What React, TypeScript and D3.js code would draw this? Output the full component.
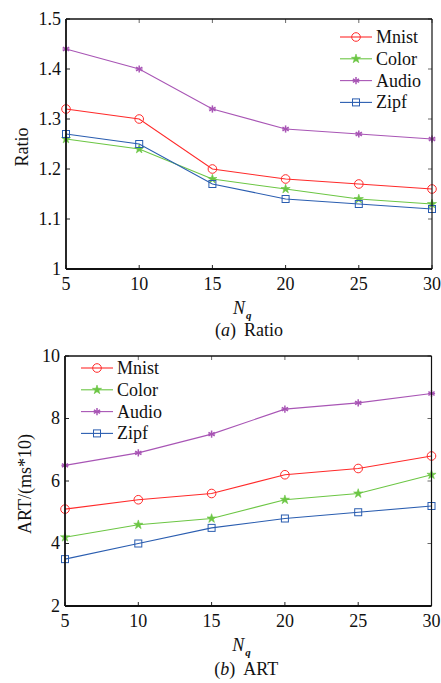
import React from "react";
import * as d3 from "d3";

const nq = [5, 10, 15, 20, 25, 30];
const seriesNames = ["Mnist", "Color", "Audio", "Zipf"];
const seriesColors = ["#ff2a2a", "#6cc644", "#a855b5", "#2a5db0"];
const markerKinds = ["circle", "star", "asterisk", "square"];

const ratioMnist = [1.32, 1.3, 1.2, 1.18, 1.17, 1.16];
const ratioColor = [1.26, 1.24, 1.18, 1.16, 1.14, 1.13];
const ratioAudio = [1.44, 1.4, 1.32, 1.28, 1.27, 1.26];
const ratioZipf = [1.27, 1.25, 1.17, 1.14, 1.13, 1.12];

const artMnist = [5.1, 5.4, 5.6, 6.2, 6.4, 6.8];
const artColor = [4.2, 4.6, 4.8, 5.4, 5.6, 6.2];
const artAudio = [6.5, 6.9, 7.5, 8.3, 8.5, 8.8];
const artZipf = [3.5, 4.0, 4.5, 4.8, 5.0, 5.2];

const ratioTicks = [1, 1.1, 1.2, 1.3, 1.4, 1.5];
const ratioTickLabels = ["1", "1.1", "1.2", "1.3", "1.4", "1.5"];
const artTicks = [2, 4, 6, 8, 10];
const artTickLabels = ["2", "4", "6", "8", "10"];

const FONT = "Liberation Serif, Tinos, Times New Roman, serif";
const TS: React.CSSProperties = { fontFamily: FONT };

function Marker({ kind, x, y, color }: { kind: string; x: number; y: number; color: string }) {
  if (kind === "circle") {
    return <circle cx={x} cy={y} r={4.3} fill="none" stroke={color} strokeWidth={1} />;
  }
  if (kind === "square") {
    return <rect x={x - 3.5} y={y - 3.5} width={7} height={7} fill="none" stroke={color} strokeWidth={1} />;
  }
  if (kind === "star") {
    const p = d3.symbol().type(d3.symbolStar).size(26)();
    return <path d={p || ""} transform={`translate(${x},${y})`} fill={color} stroke={color} strokeWidth={0.6} />;
  }
  const r = 3.6;
  const lines = [0, 60, 120].map((a) => {
    const rad = (a * Math.PI) / 180 + Math.PI / 2;
    return (
      <line
        key={a}
        x1={x - r * Math.cos(rad)}
        y1={y - r * Math.sin(rad)}
        x2={x + r * Math.cos(rad)}
        y2={y + r * Math.sin(rad)}
        stroke={color}
        strokeWidth={1.5}
      />
    );
  });
  return (
    <g>
      {lines}
      <line x1={x - r} y1={y} x2={x + r} y2={y} stroke={color} strokeWidth={1} />
    </g>
  );
}

type PanelProps = {
  left: number;
  right: number;
  top: number;
  bottom: number;
  yDomain: [number, number];
  yTicks: number[];
  yTickLabels: string[];
  data: number[][];
  yLabel: string;
  yLabelX: number;
  legendX: number;
  legendY: number;
  captionLetter: string;
  captionText: string;
  captionY: number;
};

function Panel(p: PanelProps) {
  const x = d3.scaleLinear().domain([5, 30]).range([p.left, p.right]);
  const y = d3.scaleLinear().domain(p.yDomain).range([p.bottom, p.top]);
  const line = d3
    .line<number>()
    .x((_, i) => x(nq[i]))
    .y((d) => y(d));
  const tl = 4;
  const cx = (p.left + p.right) / 2;
  const cy = (p.top + p.bottom) / 2;
  return (
    <g fill="#111">
      {p.data.map((vals, si) => (
        <g key={si}>
          <path d={line(vals) || ""} fill="none" stroke={seriesColors[si]} strokeWidth={1.1} />
          {vals.map((v, i) => (
            <Marker key={i} kind={markerKinds[si]} x={x(nq[i])} y={y(v)} color={seriesColors[si]} />
          ))}
        </g>
      ))}
      {nq.map((t) => (
        <g key={"xt" + t}>
          <line x1={x(t)} x2={x(t)} y1={p.bottom} y2={p.bottom - tl} stroke="#222" strokeWidth={1} />
          <line x1={x(t)} x2={x(t)} y1={p.top} y2={p.top + tl} stroke="#444" strokeWidth={0.8} />
          <text x={x(t)} y={p.bottom + 21} textAnchor="middle" fontSize={18} style={TS}>
            {t}
          </text>
        </g>
      ))}
      {p.yTicks.map((t, i) => (
        <g key={"yt" + t}>
          <line x1={p.left} x2={p.left + tl} y1={y(t)} y2={y(t)} stroke="#222" strokeWidth={1} />
          <line x1={p.right} x2={p.right - tl} y1={y(t)} y2={y(t)} stroke="#444" strokeWidth={0.8} />
          <text x={p.left - 5} y={y(t)} dy="0.33em" textAnchor="end" fontSize={18} style={TS}>
            {p.yTickLabels[i]}
          </text>
        </g>
      ))}
      <line x1={p.left} x2={p.right} y1={p.top} y2={p.top} stroke="#111" strokeWidth={1.5} />
      <line x1={p.right} x2={p.right} y1={p.top} y2={p.bottom} stroke="#111" strokeWidth={1.2} />
      <line x1={p.left} x2={p.right} y1={p.bottom} y2={p.bottom} stroke="#111" strokeWidth={1.8} />
      <line x1={p.left} x2={p.left} y1={p.top} y2={p.bottom} stroke="#111" strokeWidth={1.8} />
      <text
        transform={`translate(${p.yLabelX},${cy + 3}) rotate(-90)`}
        textAnchor="middle"
        fontSize={18}
        style={TS}
      >
        {p.yLabel}
      </text>
      <text x={cx - 16} y={p.bottom + 45} fontSize={18} fontStyle="italic" style={TS}>
        N
      </text>
      <text x={cx - 3} y={p.bottom + 50} fontSize={11} fontStyle="italic" fontWeight="bold" style={TS}>
        q
      </text>
      <text x={cx - 34} y={p.captionY} fontSize={18} style={TS}>
        (<tspan fontStyle="italic">{p.captionLetter}</tspan>)
        <tspan dx={8}>{p.captionText}</tspan>
      </text>
      {seriesNames.map((name, i) => {
        const ly = p.legendY + i * 21.8;
        return (
          <g key={name}>
            <line x1={p.legendX} x2={p.legendX + 32} y1={ly} y2={ly} stroke={seriesColors[i]} strokeWidth={1.1} />
            <Marker kind={markerKinds[i]} x={p.legendX + 16} y={ly} color={seriesColors[i]} />
            <text x={p.legendX + 36} y={ly} dy="0.33em" fontSize={18} style={TS}>
              {name}
            </text>
          </g>
        );
      })}
    </g>
  );
}

export default function App() {
  return (
    <svg
      width={441}
      height={683}
      style={{ position: "absolute", left: 0, top: 0, background: "#fff" }}
    >
      <rect x={0} y={0} width={441} height={683} fill="#fff" />
      <Panel
        left={66}
        right={432}
        top={19}
        bottom={269}
        yDomain={[1, 1.5]}
        yTicks={ratioTicks}
        yTickLabels={ratioTickLabels}
        data={[ratioMnist, ratioColor, ratioAudio, ratioZipf]}
        yLabel="Ratio"
        yLabelX={28}
        legendX={340}
        legendY={37}
        captionLetter="a"
        captionText="Ratio"
        captionY={336}
      />
      <Panel
        left={65}
        right={431.5}
        top={356}
        bottom={606}
        yDomain={[2, 10]}
        yTicks={artTicks}
        yTickLabels={artTickLabels}
        data={[artMnist, artColor, artAudio, artZipf]}
        yLabel="ART/(ms*10)"
        yLabelX={31}
        legendX={81}
        legendY={368}
        captionLetter="b"
        captionText="ART"
        captionY={675}
      />
    </svg>
  );
}
